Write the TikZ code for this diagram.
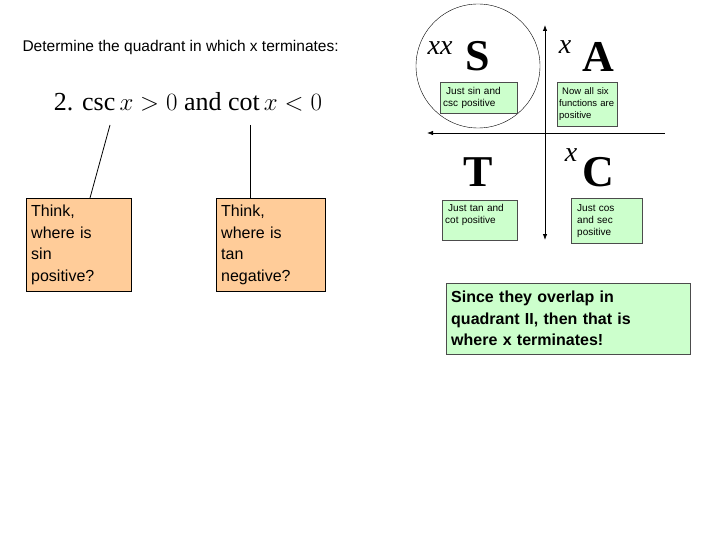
\documentclass[tikz,border=0pt]{standalone}
\usepackage{fontspec}
\setmainfont{Liberation Serif}
\newfontfamily\ars{Liberation Sans}
\usetikzlibrary{arrows.meta}
\definecolor{gbox}{HTML}{CCFFCC}
\definecolor{obox}{HTML}{FFCC99}
\begin{document}
\begin{tikzpicture}[x=1pt,y=-1pt,
  small/.style={draw=black!70,fill=gbox,font=\ars\fontsize{10}{12}\selectfont,align=left,anchor=north west,inner sep=3pt},
  think/.style={draw=black,fill=obox,font=\ars\fontsize{16}{21.5}\selectfont,align=left,anchor=north west,inner sep=5pt},
  big/.style={font=\bfseries\fontsize{44}{44}\selectfont},
  xm/.style={font=\itshape\fontsize{28}{28}\selectfont}]
\useasboundingbox (0,0) rectangle (720,540);
\node[anchor=west,font=\ars\fontsize{15.5}{18}\selectfont] (title) at (19,47) {Determine the quadrant in which x terminates:};
\node[font=\fontsize{26}{28}\selectfont] (eq) at (188,102) {2. $\csc x>0$ and $\cot x<0$};
\node[think,text width=95pt,minimum height=93pt] (b1) at (26,198) {Think,\\where is\\sin\\positive?};
\node[think,text width=99pt,minimum height=93pt] (b2) at (216,198) {Think,\\where is\\tan\\negative?};
\coordinate (e1) at (110,125); \coordinate (e2) at (250,125);
\draw[thick] (e1) -- (b1.north -| 90,0);
\draw[thick] (e2) -- (b2.north -| 250,0);
\coordinate (vt) at (545,25); \coordinate (vb) at (545,240);
\coordinate (hl) at (427,133); \coordinate (hr) at (665,133);
\draw[thick,{Latex[length=6pt]}-{Latex[length=6pt]}] (vb) -- (vt);
\draw[thick,{Latex[length=6pt]}-] (hl) -- (hr);
\node[draw,circle,minimum size=124pt,inner sep=0] (circ) at (478,66) {};
\node[big] (S) at (478,56) {S};
\node[big] (A) at (598,57) {A};
\node[big] (T) at (478,172) {T};
\node[big] (C) at (598,172) {C};
\node[xm] (x1) at (440,48) {xx};
\node[xm] (x2) at (565,47) {x};
\node[xm] (x3) at (571,155) {x};
\node[small,text width=71pt,minimum height=31pt] (sb) at (440,82) {\hspace*{3pt}Just sin and\\csc positive};
\node[small,font=\ars\fontsize{9.5}{12}\selectfont,text width=56pt,minimum height=44pt,inner sep=2pt] (ab) at (557,82) {\hspace*{3pt}Now all six\\ functions are\\ positive};
\node[small,text width=69pt,minimum height=40pt] (tb) at (442,200) {\hspace*{3pt}Just tan and\\cot positive\\\mbox{}};
\node[small,text width=65pt,minimum height=45pt] (cb) at (571,198) {\hspace*{3pt}Just cos\\\hspace*{3pt}and sec\\\hspace*{3pt}positive};
\node[draw=black!70,fill=gbox,anchor=north west,font=\ars\bfseries\fontsize{16}{21.5}\selectfont,align=left,text width=234pt,minimum height=71pt,inner sep=5pt] (res) at (446,283) {Since they overlap in\\quadrant II, then that is\\where x terminates!};
\end{tikzpicture}
\end{document}
